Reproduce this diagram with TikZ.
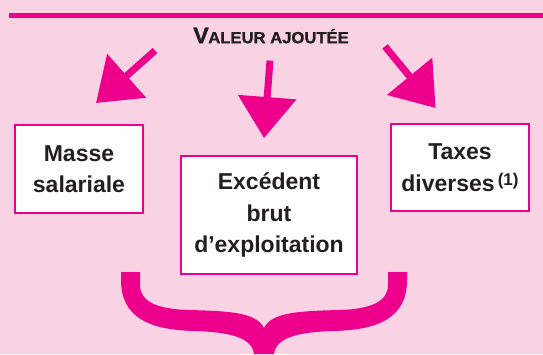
\documentclass[tikz,border=0pt]{standalone}
\usepackage{fontspec}
\setmainfont{Liberation Sans}
\newfontfamily\titlefont[FakeBold=1.2]{Liberation Sans Bold}
\usetikzlibrary{arrows.meta}
\definecolor{bgpink}{HTML}{F9D3E4}
\definecolor{mag}{HTML}{EC008C}
\definecolor{ink}{HTML}{231F20}
\begin{document}
\begin{tikzpicture}[x=1pt,y=-1pt,
  box/.style={draw=mag, line width=2.5pt, fill=white, inner sep=0pt, text=ink,
    font=\fontsize{23}{31.5}\selectfont\bfseries, align=center},
  bigarrow/.style={draw=mag, line width=7pt, -{Triangle[width=57pt,length=41pt]}},
  titlestyle/.style={text=ink, inner sep=0pt, font=\titlefont}]
\useasboundingbox (0,0) rectangle (543,354);
\fill[bgpink] (0,0) rectangle (543,354);
\draw[mag, line width=5pt] (9,15) -- (543,15);
\node[titlestyle] (title) at (271,35.5)
  {\scalebox{1.04}[1]{\fontsize{22.5}{22}\selectfont V\kern-0.5pt\fontsize{16}{15}\selectfont ALEUR AJOUTÉE}};
% boxes
\node[box, minimum width=128pt, minimum height=88pt] (masse) at (79,169) {Masse\\salariale};
\node[box, minimum width=176pt, minimum height=118pt] (ebe) at (269,215) {Excédent\\brut\\d’exploitation};
\node[box, minimum width=138pt, minimum height=87pt] (taxes) at (460,167.5)
  {Taxes\\diverses\kern3pt\raisebox{6pt}{\fontsize{17}{15}\selectfont(1)}};
% arrows
\coordinate (la) at (155,50.6);
\coordinate (lb) at (96,103);
\coordinate (ma) at (270,60.6);
\coordinate (mb) at (264,138);
\coordinate (ra) at (385,46.4);
\coordinate (rb) at (435.6,108);
\draw[bigarrow] (la) -- (lb);
\draw[bigarrow] (ma) -- (mb);
\draw[bigarrow] (ra) -- (rb);
% brace
\fill[mag] (121,272) -- (121,280) .. controls (121,318) and (150,330) .. (195,331)
  .. controls (225,332) and (252,336) .. (254,354) -- (274,354)
  .. controls (276,336) and (303,332) .. (333,331)
  .. controls (378,330) and (407,318) .. (407,280) -- (407,272) -- (388,272) -- (388,285)
  .. controls (388,302) and (370,309) .. (340,310)
  .. controls (300,311) and (272,312) .. (264,328)
  .. controls (256,312) and (228,311) .. (188,310)
  .. controls (158,309) and (140,302) .. (140,285) -- (140,272) -- cycle;
\end{tikzpicture}
\end{document}
